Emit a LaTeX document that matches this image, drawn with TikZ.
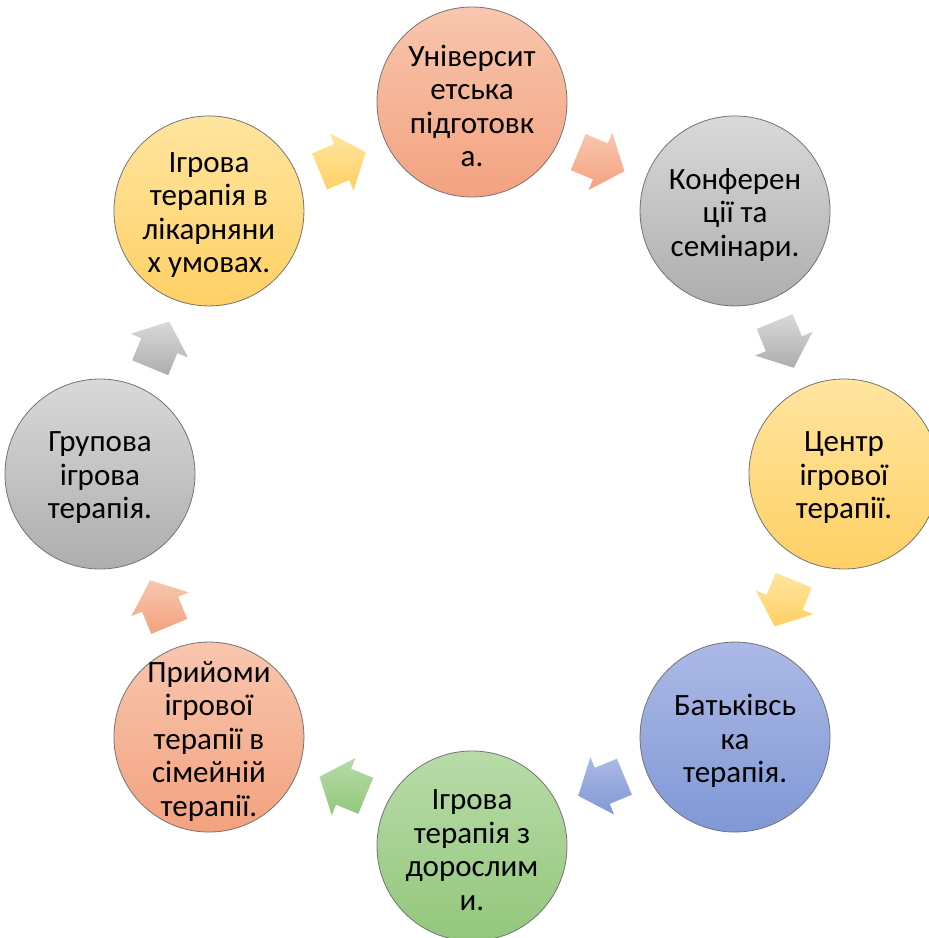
\documentclass[tikz,border=0pt]{standalone}
\usepackage{fontspec}
\setmainfont{Carlito}
\usetikzlibrary{calc}
\definecolor{orA}{HTML}{F8C6AE}\definecolor{orB}{HTML}{F3A27F}
\definecolor{grA}{HTML}{D9D9D9}\definecolor{grB}{HTML}{ADADAD}
\definecolor{yeA}{HTML}{FFE59F}\definecolor{yeB}{HTML}{FFD065}
\definecolor{blA}{HTML}{ACB9E5}\definecolor{blB}{HTML}{8098D6}
\definecolor{gnA}{HTML}{B8DBA8}\definecolor{gnB}{HTML}{93C77C}
\newcommand\cycarrow[2]{%
  \path[#2] ($(#1:318.5)+(#1-90:-25)$) -- ($(#1:318.5)+(#1-90:-1)$) --
    ($(#1:307)+(#1-90:-1)$) -- ($(#1:338)+(#1-90:25)$) --
    ($(#1:369)+(#1-90:-1)$) -- ($(#1:357.5)+(#1-90:-1)$) --
    ($(#1:357.5)+(#1-90:-25)$) -- cycle;}
\begin{document}
\begin{tikzpicture}[x=1pt,y=1pt,
  bubble/.style={circle, minimum size=190pt, inner sep=0pt, draw=black!55, line width=0.8pt},
  txt/.style={align=center, font=\fontsize{31}{33.5}\selectfont, inner sep=0pt, text=black, yshift=-4pt},
  orF/.style={top color=orA, bottom color=orB},
  grF/.style={top color=grA, bottom color=grB},
  yeF/.style={top color=yeA, bottom color=yeB},
  blF/.style={top color=blA, bottom color=blB},
  gnF/.style={top color=gnA, bottom color=gnB}]
\useasboundingbox (-472,-464) rectangle (457,474);
\coordinate (o) at (0,0);
% arrows
\cycarrow{67.5}{orF}
\cycarrow{22.5}{grF}
\cycarrow{-22.5}{yeF}
\cycarrow{-67.5}{blF}
\cycarrow{-112.5}{gnF}
\cycarrow{-157.5}{orF}
\cycarrow{157.5}{grF}
\cycarrow{112.5}{yeF}
% circles
\node[bubble, orF] (c1) at (90:372) {};
\node[bubble, grF] (c2) at (45:372) {};
\node[bubble, yeF] (c3) at (0:372) {};
\node[bubble, blF] (c4) at (-45:372) {};
\node[bubble, gnF] (c5) at (-90:372) {};
\node[bubble, orF] (c6) at (-135:372) {};
\node[bubble, grF] (c7) at (180:372) {};
\node[bubble, yeF] (c8) at (135:372) {};
% texts
\node[txt] (t1) at (c1) {Університ\\етська\\підготовк\\а.};
\node[txt] (t2) at (c2) {Конферен\\ції та\\семінари.};
\node[txt] (t3) at (c3) {Центр\\ігрової\\терапії.};
\node[txt] (t4) at (c4) {Батьківсь\\ка\\терапія.};
\node[txt] (t5) at (c5) {Ігрова\\терапія з\\дорослим\\и.};
\node[txt] (t6) at (c6) {Прийоми\\ігрової\\терапії в\\сімейній\\терапії.};
\node[txt] (t7) at (c7) {Групова\\ігрова\\терапія.};
\node[txt] (t8) at (c8) {Ігрова\\терапія в\\лікарняни\\х умовах.};
\end{tikzpicture}
\end{document}
